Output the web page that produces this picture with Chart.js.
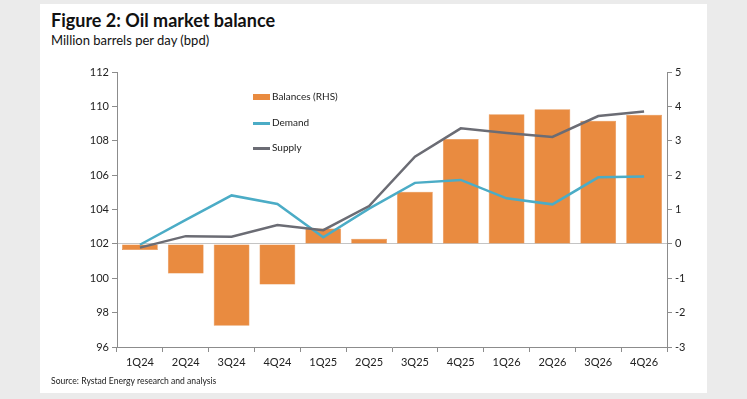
<!DOCTYPE html>
<html>
<head>
<meta charset="utf-8">
<script src="https://cdn.jsdelivr.net/npm/chart.js@4.4.1/dist/chart.umd.min.js"></script>
<style>
  html, body { margin: 0; padding: 0; background: #ebebeb; }
  body { width: 747px; height: 399px; position: relative; overflow: hidden; font-family: Lato, "Open Sans", sans-serif; }
  #panel { position: absolute; left: 40px; top: 4px; width: 667px; height: 389px; background: #fff; }
  #title { position: absolute; left: 11px; top: 5px; font-size: 18px; font-weight: bold; color: #111; }
  #subtitle { position: absolute; left: 11px; top: 28px; font-size: 13px; color: #111; }
  #source { position: absolute; left: 11px; top: 372px; font-size: 8.6px; color: #222; }
  #wrap { position: absolute; left: 0; top: 56px; width: 667px; height: 320px; }
  #legend { position: absolute; left: 213px; top: 86px; font-size: 10px; color: #222; }
  #legend div { height: 25.5px; display: flex; align-items: flex-start; }
  #legend span.k { display: inline-block; width: 17px; margin-right: 2px; margin-top: 4px; }
</style>
</head>
<body>
<div id="panel">
  <div id="title">Figure 2: Oil market balance</div>
  <div id="subtitle">Million barrels per day (bpd)</div>
  <div id="wrap"><canvas id="chart"></canvas></div>
  <div id="legend">
    <div><span class="k" style="height:6px;background:#e98b40;"></span>Balances (RHS)</div>
    <div><span class="k" style="height:3px;margin-top:6px;background:#4bacc6;"></span>Demand</div>
    <div><span class="k" style="height:3px;margin-top:6px;background:#6b6c74;"></span>Supply</div>
  </div>
  <div id="source">Source: Rystad Energy research and analysis</div>
</div>
<script>
var quarters = ["1Q24", "2Q24", "3Q24", "4Q24", "1Q25", "2Q25", "3Q25", "4Q25", "1Q26", "2Q26", "3Q26", "4Q26"];
var balances = [-0.18, -0.86, -2.38, -1.18, 0.45, 0.15, 1.52, 3.05, 3.77, 3.92, 3.58, 3.76];
var demand = [101.95, 103.4, 104.82, 104.32, 102.38, 104.05, 105.55, 105.72, 104.65, 104.3, 105.87, 105.92];
var supply = [101.78, 102.45, 102.42, 103.1, 102.8, 104.2, 107.07, 108.72, 108.45, 108.22, 109.44, 109.7];

var axisColor = "#8c8c8c";
var tickFont = { family: "Lato, 'Open Sans', sans-serif", size: 11 };

var ctx = document.getElementById("chart").getContext("2d");
ctx.canvas.width = 667;
ctx.canvas.height = 320;

var chart = new Chart(ctx, {
    type: "bar",
    data: {
        labels: quarters,
        datasets: [
            {
                type: "line",
                label: "Demand",
                data: demand,
                yAxisID: "y",
                borderColor: "#4bacc6",
                borderWidth: 2.5,
                pointRadius: 0,
                fill: false,
                tension: 0,
                order: 2
            },
            {
                type: "line",
                label: "Supply",
                data: supply,
                yAxisID: "y",
                borderColor: "#6b6c74",
                borderWidth: 2.5,
                pointRadius: 0,
                fill: false,
                tension: 0,
                order: 1
            },
            {
                label: "Balances (RHS)",
                data: balances,
                yAxisID: "y2",
                backgroundColor: "#e98b40",
                borderColor: "#e07f33",
                borderWidth: 0.5,
                categoryPercentage: 1,
                barPercentage: 0.78,
                order: 3
            }
        ]
    },
    options: {
        responsive: false,
        animation: false,
        layout: { padding: { top: 12, left: 0, right: 0, bottom: 0 } },
        plugins: {
            legend: { display: false },
            tooltip: { enabled: false }
        },
        scales: {
            x: {
                offset: true,
                grid: { offset: true, drawOnChartArea: false, tickLength: 5, color: axisColor },
                border: { color: axisColor },
                ticks: { color: "#222", font: tickFont, maxRotation: 0, padding: 4 },
                afterFit: function(scale) { scale.height = 33; }
            },
            y: {
                position: "left",
                min: 96,
                max: 112,
                grid: { drawOnChartArea: false, tickLength: 5, color: axisColor },
                border: { color: axisColor },
                ticks: { stepSize: 2, color: "#222", font: tickFont, padding: 3 },
                afterFit: function(scale) { scale.width = 77; }
            },
            y2: {
                position: "right",
                min: -3,
                max: 5,
                grid: {
                    drawOnChartArea: true,
                    tickLength: 5,
                    color: function(c) { return c.tick && c.tick.value === 0 ? "#c4c4c4" : "rgba(0,0,0,0)"; },
                    tickColor: axisColor
                },
                border: { color: axisColor },
                ticks: { stepSize: 1, color: "#222", font: tickFont, padding: 3 },
                afterFit: function(scale) { scale.width = 40; }
            }
        }
    }
});
</script>
</body>
</html>
